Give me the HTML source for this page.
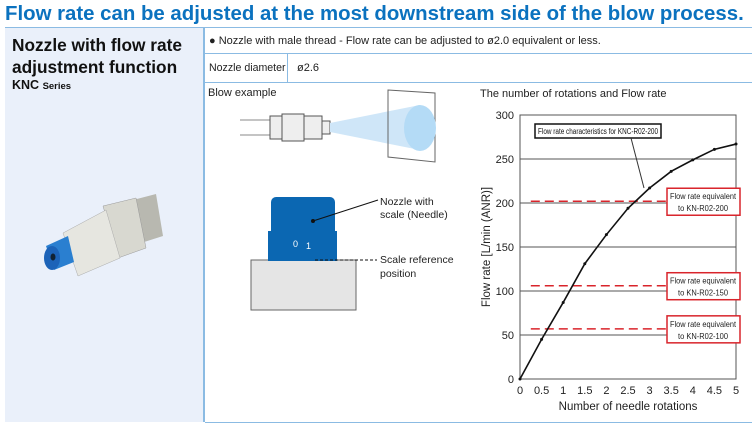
<!DOCTYPE html>
<html><head><meta charset="utf-8"><style>
body{margin:0;width:752px;height:428px;background:#fff;font-family:"Liberation Sans",sans-serif;position:relative;overflow:hidden}
.a{position:absolute}
</style></head><body>
<div class="a" style="left:5px;top:3px;font-size:20.4px;font-weight:bold;color:#0b72bf;white-space:nowrap">Flow rate can be adjusted at the most downstream side of the blow process.</div>
<div class="a" style="left:5px;top:27px;width:747px;height:1px;background:#8bbbe3"></div>
<div class="a" style="left:5px;top:28px;width:198px;height:394px;background:#eaf0fa"></div>
<div class="a" style="left:203px;top:28px;width:2px;height:394px;background:#8bbbe3"></div>
<div class="a" style="left:12px;top:34px;font-size:17.3px;font-weight:bold;line-height:22px;color:#111;white-space:nowrap">Nozzle with flow rate<br>adjustment function</div>
<div class="a" style="left:12px;top:78px;font-size:12.5px;font-weight:bold;color:#111">KNC <span style="font-size:9.5px">Series</span></div>
<svg class="a" style="left:38px;top:188px" width="135" height="90">
<polygon points="95,12 118,6 125,48 103,55" fill="#b8b8b0"/>
<polygon points="65,18 98,10 108,60 80,70" fill="#d8d8d0" stroke="#999" stroke-width="0.5"/>
<polygon points="25,45 68,22 82,70 40,88" fill="#e6e6e0" stroke="#aaa" stroke-width="0.5"/>
<polygon points="8,58 30,48 36,74 16,82" fill="#2a7fd0"/>
<ellipse cx="14" cy="70" rx="8" ry="12" fill="#1c63b8"/>
<ellipse cx="15" cy="69" rx="2.5" ry="3.5" fill="#123"/>
</svg>
<div class="a" style="left:205px;top:53px;width:547px;height:1px;background:#8bbbe3"></div>
<div class="a" style="left:205px;top:82px;width:547px;height:1px;background:#8bbbe3"></div>
<div class="a" style="left:287px;top:54px;width:1px;height:28px;background:#8bbbe3"></div>
<div class="a" style="left:205px;top:422px;width:547px;height:1px;background:#8bbbe3"></div>
<div class="a" style="left:209px;top:35px;font-size:11px;color:#222">● Nozzle with male thread - Flow rate can be adjusted to ø2.0 equivalent or less.</div>
<div class="a" style="left:209px;top:62px;font-size:10.6px;color:#222">Nozzle diameter</div>
<div class="a" style="left:297px;top:62px;font-size:11px;color:#222">ø2.6</div>
<div class="a" style="left:208px;top:87px;font-size:11px;color:#222">Blow example</div>
<svg class="a" style="left:205px;top:85px" width="265" height="330">
<line x1="35" y1="35" x2="70" y2="35" stroke="#888"/><line x1="35" y1="50" x2="70" y2="50" stroke="#888"/>
<rect x="65" y="31" width="12" height="23" fill="#eee" stroke="#555"/>
<rect x="77" y="29" width="22" height="27" fill="#eee" stroke="#555"/>
<rect x="99" y="31" width="18" height="23" fill="#eee" stroke="#555"/>
<rect x="117" y="36" width="8" height="13" fill="#eee" stroke="#555"/>
<polygon points="125,38 215,20 215,65 125,47" fill="#cfe6f8"/>
<polygon points="183,5 230,8 230,77 183,72" fill="none" stroke="#666"/>
<ellipse cx="215" cy="43" rx="16" ry="23" fill="#b4dbf6"/>
<rect x="46" y="175" width="105" height="50" fill="#e5e5e5" stroke="#666"/>
<rect x="66" y="112" width="64" height="40" rx="5" fill="#0b67b2"/>
<rect x="63" y="146" width="69" height="30" fill="#0b67b2"/>
<text x="88" y="162" font-size="9" fill="#fff" font-family="Liberation Sans">0</text><text x="101" y="164" font-size="9" fill="#fff" font-family="Liberation Sans">1</text>
<circle cx="108" cy="136" r="2" fill="#111"/><line x1="108" y1="136" x2="173" y2="115" stroke="#111"/>
<line x1="110" y1="175" x2="172" y2="175" stroke="#111" stroke-dasharray="3,2"/>
<text font-size="10.5" fill="#222" font-family="Liberation Sans"><tspan x="175" y="120">Nozzle with</tspan><tspan x="175" y="133">scale (Needle)</tspan><tspan x="175" y="178">Scale reference</tspan><tspan x="175" y="192">position</tspan></text>
</svg>
<div class="a" style="left:480px;top:88px;font-size:11px;color:#222">The number of rotations and Flow rate</div>
<svg class="a" id="chart" style="left:0;top:0" width="752" height="428"></svg>
<script>
const xTicks=[0,0.5,1,1.5,2,2.5,3,3.5,4,4.5,5];
const yTicks=[0,50,100,150,200,250,300];
const rotations=[0,0.5,1,1.5,2,2.5,3,3.5,4,4.5,5];
const flowRates=[0,45,87,131,164,194,217,236,249,261,267];
const refValues=[202,106,57];
const refLabels=["KN-R02-200","KN-R02-150","KN-R02-100"];
const X0=520,X1=736,Y0=379,Y1=115;
const sx=v=>X0+(v-0)/5*(X1-X0), sy=v=>Y0-(v/300)*(Y0-Y1);
const svg=document.getElementById('chart');const NS='http://www.w3.org/2000/svg';
function mk(t,a,txt){const e=document.createElementNS(NS,t);for(const k in a)e.setAttribute(k,a[k]);if(txt!==undefined)e.textContent=txt;svg.appendChild(e);return e;}
yTicks.forEach(v=>{if(v>0&&v<300){const g=mk('line',{x1:X0,x2:X1,y1:sy(v),y2:sy(v),stroke:'#555','stroke-width':1});

}
const t=mk('text',{x:X0-6,y:sy(v)+4,'text-anchor':'end','font-size':11,fill:'#222','font-family':'Liberation Sans'},v);

});
xTicks.forEach(v=>{const t=mk('text',{x:sx(v),y:Y0+15,'text-anchor':'middle','font-size':11,fill:'#222','font-family':'Liberation Sans'},v);

});
const fr=mk('rect',{x:X0,y:Y1,width:X1-X0,height:Y0-Y1,fill:'none',stroke:'#555'});


refValues.forEach((v,i)=>{const l=mk('line',{x1:sx(0.25),x2:sx(4.2),y1:sy(v),y2:sy(v),stroke:'#d9242b','stroke-width':1.5,'stroke-dasharray':'9,5'});


const y=sy(v);const r=mk('rect',{x:667,y:y-13,width:73,height:27,fill:'#fff',stroke:'#d9242b','stroke-width':1.5});


const t=mk('text',{x:670,y:y-2,'font-size':8.5,textLength:66,lengthAdjust:'spacingAndGlyphs',fill:'#222','font-family':'Liberation Sans'},'Flow rate equivalent');


const t2=mk('text',{x:703,y:y+10,'text-anchor':'middle','font-size':8.5,textLength:50,lengthAdjust:'spacingAndGlyphs',fill:'#222','font-family':'Liberation Sans'},'to '+refLabels[i]);

});
const p=mk('polyline',{points:rotations.map((r,i)=>sx(r)+','+sy(flowRates[i])).join(' '),fill:'none',stroke:'#111','stroke-width':1.6});


rotations.forEach((r,i)=>{const c=mk('circle',{cx:sx(r),cy:sy(flowRates[i]),r:1.5,fill:'#111'});

});
const cb=mk('rect',{x:535,y:124,width:126,height:14,fill:'#fff',stroke:'#111','stroke-width':1.5});


const ct=mk('text',{x:538,y:134,'font-size':8,textLength:120,lengthAdjust:'spacingAndGlyphs',fill:'#111','font-family':'Liberation Sans'},'Flow rate characteristics for KNC-R02-200');


const ca=mk('line',{x1:631,y1:138,x2:644,y2:188,stroke:'#333'});


const xt=mk('text',{x:(X0+X1)/2,y:410,'text-anchor':'middle','font-size':11.5,fill:'#222','font-family':'Liberation Sans'},'Number of needle rotations');


const yt=mk('text',{x:0,y:0,'text-anchor':'middle','font-size':11.5,fill:'#222','font-family':'Liberation Sans',transform:'translate(490,'+((Y0+Y1)/2)+') rotate(-90)'},'Flow rate [L/min (ANR)]');


</script>
</body></html>
